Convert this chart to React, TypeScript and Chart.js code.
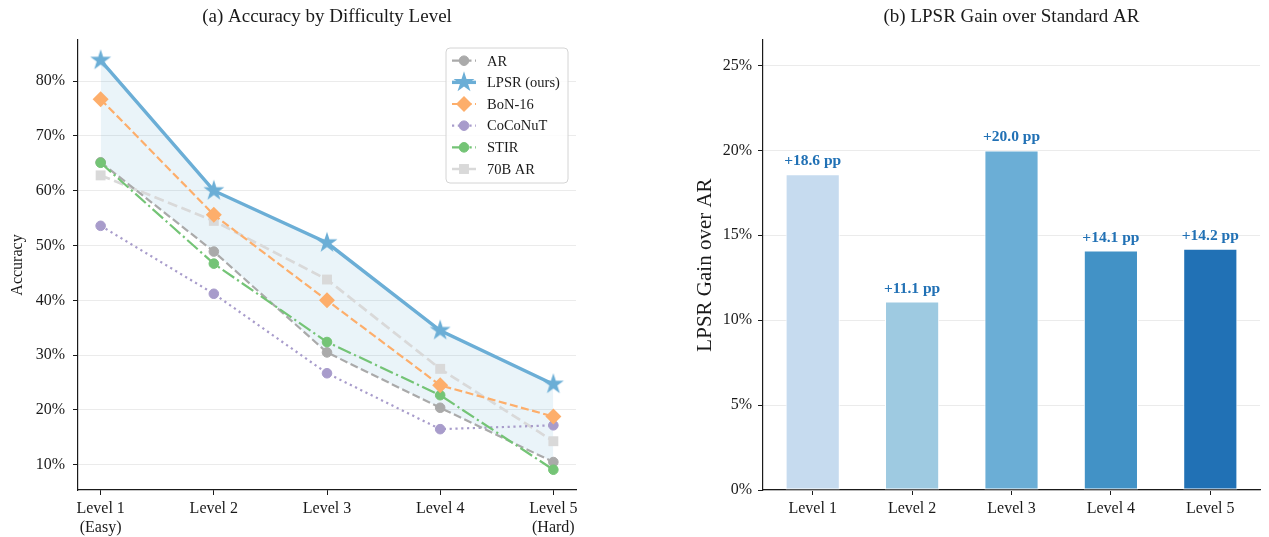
import React, { useEffect, useRef } from 'react';
import { Chart, registerables } from 'chart.js';

Chart.register(...registerables);

// ---------- Data ----------
const levelLabels: (string | string[])[] = [['Level 1', '(Easy)'], 'Level 2', 'Level 3', 'Level 4', ['Level 5', '(Hard)']];
const barLevelLabels = ['Level 1', 'Level 2', 'Level 3', 'Level 4', 'Level 5'];

const arValues = [65.2, 48.9, 30.5, 20.4, 10.5];
const lpsrValues = [83.8, 60.0, 50.5, 34.5, 24.7];
const bon16Values = [76.7, 55.6, 40.0, 24.5, 18.8];
const coconutValues = [53.6, 41.2, 26.7, 16.5, 17.2];
const stirValues = [65.1, 46.7, 32.4, 22.7, 9.1];
const ar70bValues = [62.8, 54.5, 43.8, 27.5, 14.3];

const gainValues = [18.6, 11.1, 20.0, 14.1, 14.2];

const accuracyTicks = [10, 20, 30, 40, 50, 60, 70, 80];
const gainTicks = [0, 5, 10, 15, 20, 25];

const leftTitle = '(a) Accuracy by Difficulty Level';
const rightTitle = '(b) LPSR Gain over Standard AR';

// ---------- Styles ----------
const FONT = '"Liberation Serif", "Times New Roman", "DejaVu Serif", serif';
const INK = '#1a1a1a';
const GRID = '#ebebeb';
const barColors = ['#c6dbef', '#9ecae1', '#6baed6', '#4292c6', '#2171b5'];
const barLabelColor = '#2171b5';

type Marker = 'circle' | 'star' | 'rectRot' | 'rect';
interface SeriesStyle {
  label: string;
  values: number[];
  color: string;
  lw: number;
  dash: number[];
  marker: Marker;
  r: number;
  order: number;
}

const lineSeries: SeriesStyle[] = [
  { label: 'AR', values: arValues, color: '#aaaaaa', lw: 2.2, dash: [8, 3.5], marker: 'circle', r: 4.8, order: 3 },
  { label: 'LPSR (ours)', values: lpsrValues, color: '#6baed6', lw: 3.4, dash: [], marker: 'star', r: 11, order: 0 },
  { label: 'BoN-16', values: bon16Values, color: '#fdae6b', lw: 2.2, dash: [8, 3.5], marker: 'rectRot', r: 8, order: 1 },
  { label: 'CoCoNuT', values: coconutValues, color: '#a89ccb', lw: 2.2, dash: [2.2, 3.6], marker: 'circle', r: 4.8, order: 4 },
  { label: 'STIR', values: stirValues, color: '#74c476', lw: 2.2, dash: [14, 3.5, 2.2, 3.5], marker: 'circle', r: 4.8, order: 2 },
  { label: '70B AR', values: ar70bValues, color: '#d9d9d9', lw: 2.7, dash: [10, 4.5], marker: 'rect', r: 7, order: 5 },
];

function starPath(ctx: CanvasRenderingContext2D, cx: number, cy: number, R: number) {
  const r = R * 0.382;
  ctx.beginPath();
  for (let i = 0; i < 10; i++) {
    const a = -Math.PI / 2 + (i * Math.PI) / 5;
    const rad = i % 2 === 0 ? R : r;
    const px = cx + rad * Math.cos(a);
    const py = cy + rad * Math.sin(a);
    if (i === 0) ctx.moveTo(px, py);
    else ctx.lineTo(px, py);
  }
  ctx.closePath();
}

function makeStarImage(R: number, color: string) {
  const size = Math.ceil(2 * R + 4);
  const c = document.createElement('canvas');
  c.width = size;
  c.height = size;
  const ctx = c.getContext('2d')!;
  starPath(ctx, size / 2, size / 2, R);
  ctx.fillStyle = color;
  ctx.fill();
  return c;
}

function drawMarker(ctx: CanvasRenderingContext2D, s: SeriesStyle, x: number, y: number) {
  ctx.save();
  ctx.setLineDash([]);
  ctx.fillStyle = s.color;
  ctx.strokeStyle = s.color;
  ctx.lineWidth = 1;
  if (s.marker === 'circle') {
    ctx.beginPath();
    ctx.arc(x, y, s.r, 0, Math.PI * 2);
    ctx.fill();
    ctx.stroke();
  } else if (s.marker === 'star') {
    starPath(ctx, x, y, s.r);
    ctx.fill();
  } else if (s.marker === 'rectRot') {
    ctx.beginPath();
    ctx.moveTo(x, y - s.r);
    ctx.lineTo(x + s.r, y);
    ctx.lineTo(x, y + s.r);
    ctx.lineTo(x - s.r, y);
    ctx.closePath();
    ctx.fill();
  } else {
    const h = s.r * Math.SQRT1_2;
    ctx.fillRect(x - h, y - h, 2 * h, 2 * h);
  }
  ctx.restore();
}

function makeTitlePlugin(text: string) {
  return {
    id: 'centeredTitle',
    afterDraw(chart: any) {
      const { ctx, chartArea } = chart;
      ctx.save();
      ctx.font = `19px ${FONT}`;
      ctx.fillStyle = INK;
      ctx.textAlign = 'center';
      ctx.textBaseline = 'alphabetic';
      ctx.fillText(text, (chartArea.left + chartArea.right) / 2, 22);
      ctx.restore();
    },
  };
}

const legendPlugin = {
  id: 'lineLegend',
  afterDraw(chart: any) {
    const { ctx, chartArea } = chart;
    const w = 122;
    const h = 135;
    const x = chartArea.right - 8 - w;
    const y = chartArea.top + 8;
    ctx.save();
    ctx.beginPath();
    const rr = 4;
    ctx.moveTo(x + rr, y);
    ctx.arcTo(x + w, y, x + w, y + h, rr);
    ctx.arcTo(x + w, y + h, x, y + h, rr);
    ctx.arcTo(x, y + h, x, y, rr);
    ctx.arcTo(x, y, x + w, y, rr);
    ctx.closePath();
    ctx.fillStyle = 'rgba(255,255,255,0.85)';
    ctx.fill();
    ctx.strokeStyle = '#d4d4d4';
    ctx.lineWidth = 1;
    ctx.stroke();
    lineSeries.forEach((s, i) => {
      const cy = y + 12.7 + i * 21.66;
      ctx.beginPath();
      ctx.setLineDash(s.dash);
      ctx.lineWidth = s.lw;
      ctx.strokeStyle = s.color;
      ctx.moveTo(x + 6, cy);
      ctx.lineTo(x + 30, cy);
      ctx.stroke();
      ctx.setLineDash([]);
      drawMarker(ctx, s, x + 18, cy);
      ctx.fillStyle = INK;
      ctx.font = `14.5px ${FONT}`;
      ctx.textBaseline = 'middle';
      ctx.textAlign = 'left';
      ctx.fillText(s.label, x + 41, cy + 1);
    });
    ctx.restore();
  },
};

const barLabelPlugin = {
  id: 'barLabels',
  afterDatasetsDraw(chart: any) {
    const { ctx } = chart;
    const meta = chart.getDatasetMeta(0);
    ctx.save();
    ctx.font = `bold 15.5px ${FONT}`;
    ctx.fillStyle = barLabelColor;
    ctx.textAlign = 'center';
    ctx.textBaseline = 'alphabetic';
    meta.data.forEach((bar: any, i: number) => {
      ctx.fillText(`+${gainValues[i].toFixed(1)} pp`, bar.x, bar.y - 9);
    });
    ctx.restore();
  },
};

export default function App() {
  const leftRef = useRef<HTMLCanvasElement>(null);
  const rightRef = useRef<HTMLCanvasElement>(null);

  useEffect(() => {
    Chart.defaults.font.family = FONT;
    Chart.defaults.color = INK;
    const star = makeStarImage(11, '#6baed6');

    const datasets: any[] = lineSeries.map((s, idx) => ({
      label: s.label,
      data: s.values.map((v, i) => ({ x: i, y: v })),
      borderColor: s.color,
      borderWidth: s.lw,
      borderDash: s.dash,
      pointStyle: s.marker === 'star' ? star : s.marker,
      pointRadius: s.r,
      pointBackgroundColor: s.color,
      pointBorderColor: s.color,
      pointBorderWidth: s.marker === 'circle' ? 1 : 0,
      tension: 0,
      order: s.order,
      fill: idx === 1 ? '-1' : false,
      backgroundColor: idx === 1 ? 'rgba(107,174,214,0.14)' : s.color,
    }));

    const left = new Chart(leftRef.current!, {
      type: 'line',
      data: { datasets },
      options: {
        responsive: false,
        animation: false,
        devicePixelRatio: 1,
        layout: { padding: { left: 0, right: 64, top: 40, bottom: 0 } },
        plugins: {
          legend: { display: false },
          tooltip: { enabled: false },
          title: { display: false },
          filler: { drawTime: 'beforeDatasetsDraw' } as any,
        },
        scales: {
          x: {
            type: 'linear',
            min: -0.2,
            max: 4.2,
            afterBuildTicks: (s: any) => {
              s.ticks = levelLabels.map((_, i) => ({ value: i }));
            },
            afterFit: (s: any) => {
              s.height = 47;
            },
            ticks: {
              callback: (_v: any, i: number) => levelLabels[i] as any,
              color: INK,
              font: { size: 16, family: FONT },
              padding: 4,
              maxRotation: 0,
              autoSkip: false,
            },
            grid: { drawOnChartArea: false, tickLength: 5, tickColor: INK, tickWidth: 1 },
            border: { color: INK, width: 1.2 },
          },
          y: {
            type: 'linear',
            min: 5.4,
            max: 87.5,
            afterBuildTicks: (s: any) => {
              s.ticks = accuracyTicks.map((v) => ({ value: v }));
            },
            afterFit: (s: any) => {
              s.width = 78;
            },
            ticks: {
              callback: (v: any) => `${v}%`,
              color: INK,
              font: { size: 16, family: FONT },
              padding: 8,
            },
            grid: { color: GRID, lineWidth: 1, tickLength: 5, tickColor: INK, tickWidth: 1 },
            border: { color: INK, width: 1.2 },
            title: {
              display: true,
              text: 'Accuracy',
              color: INK,
              font: { size: 16, family: FONT },
              padding: { top: 8, bottom: 0 },
            },
          },
        },
      } as any,
      plugins: [legendPlugin, makeTitlePlugin(leftTitle)],
    });

    const right = new Chart(rightRef.current!, {
      type: 'bar',
      data: {
        labels: barLevelLabels,
        datasets: [
          {
            label: 'LPSR Gain over AR',
            data: gainValues,
            backgroundColor: barColors,
            borderColor: '#ffffff',
            borderWidth: 1,
            borderSkipped: false,
            barPercentage: 0.545,
            categoryPercentage: 1,
          },
        ],
      },
      options: {
        responsive: false,
        animation: false,
        devicePixelRatio: 1,
        layout: { padding: { left: 0, right: 9, top: 40, bottom: 0 } },
        plugins: {
          legend: { display: false },
          tooltip: { enabled: false },
          title: { display: false },
        },
        scales: {
          x: {
            type: 'category',
            offset: true,
            afterFit: (s: any) => {
              s.height = 47;
            },
            ticks: {
              color: INK,
              font: { size: 16, family: FONT },
              padding: 4,
              maxRotation: 0,
              autoSkip: false,
            },
            grid: { offset: false, drawOnChartArea: false, tickLength: 5, tickColor: INK, tickWidth: 1 },
            border: { color: INK, width: 1.2 },
          },
          y: {
            type: 'linear',
            min: 0,
            max: 26.5,
            afterBuildTicks: (s: any) => {
              s.ticks = gainTicks.map((v) => ({ value: v }));
            },
            afterFit: (s: any) => {
              s.width = 123;
            },
            ticks: {
              callback: (v: any) => `${v}%`,
              color: INK,
              font: { size: 16, family: FONT },
              padding: 6,
            },
            grid: { color: GRID, lineWidth: 1, tickLength: 5, tickColor: INK, tickWidth: 1 },
            border: { color: INK, width: 1.2 },
            title: {
              display: true,
              text: 'LPSR Gain over AR',
              color: INK,
              font: { size: 21, family: FONT },
              padding: { top: 52.5, bottom: 0 },
            },
          },
        },
      } as any,
      plugins: [barLabelPlugin, makeTitlePlugin(rightTitle)],
    });

    return () => {
      left.destroy();
      right.destroy();
    };
  }, []);

  return (
    <div style={{ position: 'fixed', left: 0, top: 0, width: 1269, height: 537, background: '#ffffff' }}>
      <canvas
        ref={leftRef}
        width={640}
        height={537}
        style={{ position: 'absolute', left: 0, top: 0, width: 640, height: 537, display: 'block' }}
      />
      <canvas
        ref={rightRef}
        width={629}
        height={537}
        style={{ position: 'absolute', left: 640, top: 0, width: 629, height: 537, display: 'block' }}
      />
    </div>
  );
}
